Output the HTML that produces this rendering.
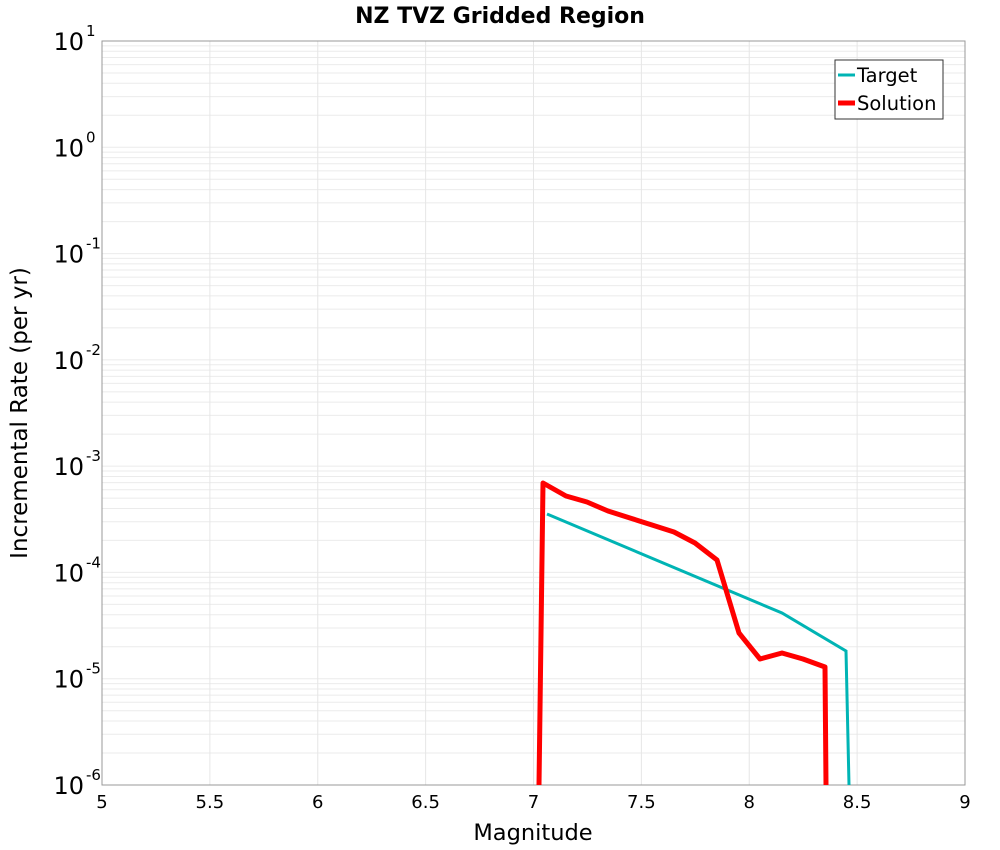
<!DOCTYPE html>
<html><head><style>body{margin:0;background:#fff}svg{display:block}</style></head><body>
<svg id="s" width="1000" height="850" xmlns="http://www.w3.org/2000/svg" font-family="DejaVu Sans, sans-serif">
<rect width="1000" height="850" fill="#fff"/>
<g id="grid"></g>
<rect x="102" y="41" width="863" height="744" fill="none" stroke="#999" stroke-width="1"/>
<text x="500" y="23" text-anchor="middle" font-size="22" font-weight="bold">NZ TVZ Gridded Region</text>
<text x="533" y="840" text-anchor="middle" font-size="22.5">Magnitude</text>
<text transform="translate(27,413) rotate(-90)" text-anchor="middle" font-size="23">Incremental Rate (per yr)</text>
<g id="lab"></g>
<polyline fill="none" stroke="#00b4b4" stroke-width="3" points="547,514 782,613 846,651 849,785"/>
<polyline fill="none" stroke="#ff0000" stroke-width="5" stroke-linejoin="round" points="539,785 543,483 566,496 587,502 608,511 630,518 652,525 674,532 695,543 717,560 739,633 760,659 782,653 803,659 825,667 826,785"/>
<rect x="835" y="60" width="108" height="59" fill="#fff" stroke="#333" stroke-width="1"/>
<line x1="838" y1="75" x2="855" y2="75" stroke="#00b4b4" stroke-width="3"/>
<text x="857" y="82" font-size="19.5">Target</text>
<line x1="838" y1="103" x2="855" y2="103" stroke="#ff0000" stroke-width="5"/>
<text x="857" y="110" font-size="19.5">Solution</text>
</svg>
<script>
var g=document.getElementById('grid'),l=document.getElementById('lab'),h='';
var y0=41,dec=744/7;
for(var d=0;d<7;d++){for(var k=1;k<10;k++){var y=y0+(d+1)*dec-Math.log10(k)*dec;h+='<line x1="102" x2="965" y1="'+y+'" y2="'+y+'" stroke="#ebebeb" stroke-width="1"/>';}}
for(var i=0;i<=8;i++){var x=102+i*863/8;h+='<line y1="41" y2="785" x1="'+x+'" x2="'+x+'" stroke="#e6e6e6" stroke-width="1"/>';}
g.innerHTML=h;
var t='';
for(var i=0;i<=8;i++){var x=102+i*863/8;var v=5+i*0.5;t+='<text x="'+x+'" y="808" text-anchor="middle" font-size="18">'+(v%1?v:v.toFixed(0))+'</text>';}
for(var e=1;e>=-6;e--){var y=y0+(1-e)*dec;t+='<text x="84" y="'+(y+9)+'" text-anchor="end" font-size="24">10</text><text x="86" y="'+(y-5)+'" font-size="15">'+e+'</text>';}
l.innerHTML=t;
</script>
</body></html>
